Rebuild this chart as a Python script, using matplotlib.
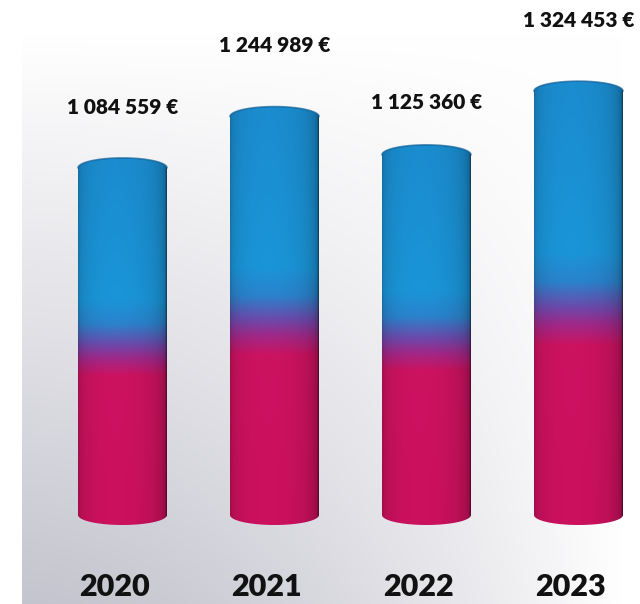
import numpy as np
import matplotlib
matplotlib.use('Agg')
import matplotlib.pyplot as plt
from matplotlib.path import Path
from matplotlib.patches import PathPatch, Ellipse
from matplotlib.colors import to_rgb

# --- data ---
annees = ['2020', '2021', '2022', '2023']
montants = [1084559, 1244989, 1125360, 1324453]

# écart (px) entre le haut du cylindre et l'étiquette de valeur
ecart_etiquette = [50, 61, 42, 61]

# --- style ---
W, H = 640, 604
PX_PAR_EURO = 0.32e-3          # échelle verticale
BASE_PX = 515                  # ligne de base (depuis le haut)
X0_PX, PAS_PX = 122.5, 152     # centre du premier cylindre, espacement
LARGEUR = 89 / PAS_PX          # largeur d'un cylindre en unités catégorie
RY = 10 / PX_PAR_EURO          # demi-hauteur des ellipses en euros

stops = [
    (0.00, '#c8105c'),
    (0.40, '#c8125e'),
    (0.45, '#9c2886'),
    (0.49, '#6a48a8'),
    (0.55, '#2a80c8'),
    (0.62, '#1a92d4'),
    (1.00, '#1a8acb'),
]
FONT = ['Lato', 'DejaVu Sans']


def couleur_hauteur(f):
    pos = np.array([s[0] for s in stops])
    cols = np.array([to_rgb(s[1]) for s in stops])
    f = np.clip(f, 0, 1)
    return np.stack([np.interp(f, pos, cols[:, k]) for k in range(3)], axis=-1)


def ombrage(n, decal=0.15):
    u = np.linspace(-0.999, 0.999, n)
    theta = np.arcsin(u)
    lam = np.clip(np.cos(theta + decal), 0, 1)
    return 0.4 + 0.62 * lam ** 0.3


fig = plt.figure(figsize=(W / 100, H / 100), dpi=100)
ax = fig.add_axes([0, 0, 1, 1])

xmin = -X0_PX / PAS_PX
xmax = (W - X0_PX) / PAS_PX
ymax = BASE_PX / PX_PAR_EURO
ymin = -(H - BASE_PX) / PX_PAR_EURO

# fond : dégradé gris en bas à gauche
yy, xx = np.mgrid[0:H, 0:W]
dv = np.clip(1 - (H - yy) / 570, 0, 1)
dh = np.clip(1 - (np.clip(xx - 22, 0, None) / 600) ** 1.6, 0, 1)
d = dv * dh
d[xx < 22] = 0
gris = np.array([0.77, 0.77, 0.81])
fond = 1 - d[..., None] * (1 - gris)
ax.imshow(fond, extent=(xmin, xmax, ymin, ymax), aspect='auto',
          origin='upper', zorder=0, interpolation='bilinear')

for i, (annee, v) in enumerate(zip(annees, montants)):
    cx = i
    a = LARGEUR / 2

    # corps du cylindre
    ny, nx = 400, 120
    ys = np.linspace(-RY, v + RY, ny)
    base = couleur_hauteur(ys / v)
    img = np.clip(base[:, None, :] * ombrage(nx)[None, :, None], 0, 1)

    t_bas = np.linspace(np.pi, 2 * np.pi, 60)
    t_haut = np.linspace(0, np.pi, 60)
    verts = np.concatenate([
        np.column_stack([cx + a * np.cos(t_bas), RY * np.sin(t_bas)]),
        np.column_stack([cx + a * np.cos(t_haut), v + RY * np.sin(t_haut)]),
    ])
    verts = np.vstack([verts, verts[:1]])
    contour = PathPatch(Path(verts, closed=True), transform=ax.transData,
                        facecolor='none', edgecolor='none')
    im = ax.imshow(img, extent=(cx - a, cx + a, -RY, v + RY), origin='lower',
                   aspect='auto', zorder=2, interpolation='bilinear')
    im.set_clip_path(contour)

    # couvercle (même bleu, bord supérieur un peu plus sombre)
    t_arc = np.linspace(0, np.pi, 60)
    ax.plot(cx + a * np.cos(t_arc), v + RY * np.sin(t_arc), color='#0f5f96',
            lw=1.2, alpha=0.7, zorder=4, solid_capstyle='round')

    # étiquettes
    texte = f"{v:,}".replace(',', ' ') + ' €'
    ax.annotate(texte, (cx, v + RY), xytext=(0, ecart_etiquette[i] * 0.72),
                textcoords='offset points', ha='center', va='center',
                fontsize=15, fontweight='heavy', family=FONT, color='#111111',
                zorder=5)
    ax.text(cx - 0.05, -(587 - BASE_PX) / PX_PAR_EURO, annee, ha='center',
            va='center', fontsize=22, fontweight='heavy', family=FONT,
            color='#111111', zorder=5)

ax.set_xlim(xmin, xmax)
ax.set_ylim(ymin, ymax)
ax.axis('off')

fig.savefig('out.png', dpi=100)
